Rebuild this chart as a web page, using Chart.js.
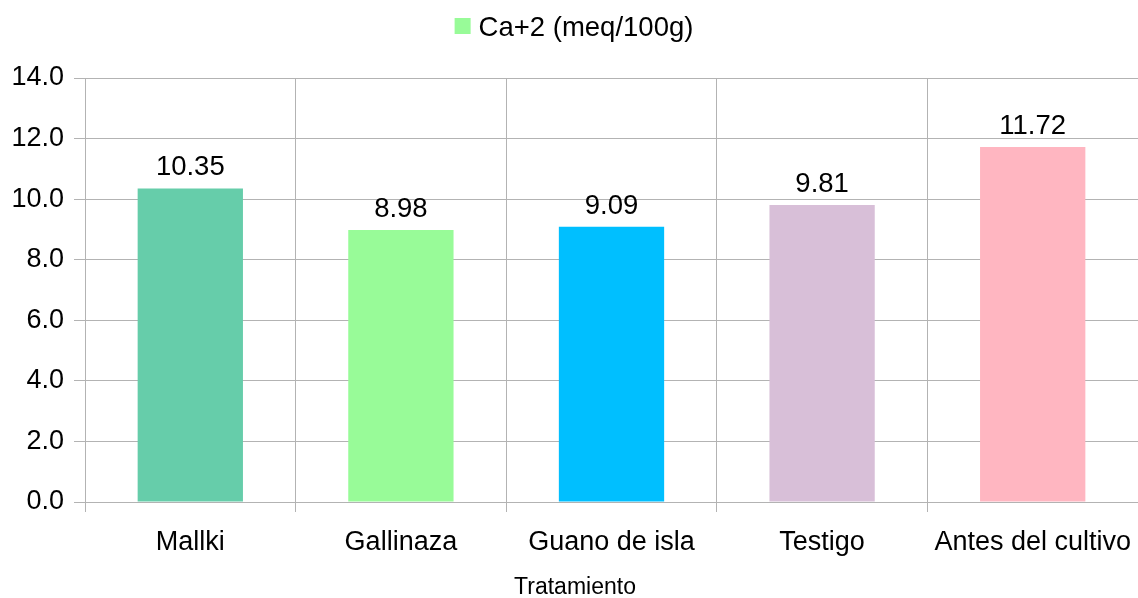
<!DOCTYPE html>
<html>
<head>
<meta charset="utf-8">
<script src="https://cdn.jsdelivr.net/npm/chart.js@4"></script>
<style>
html,body{margin:0;padding:0;background:#fff;}
#wrap{width:1138px;height:598px;}
</style>
</head>
<body>
<div id="wrap"><canvas id="c" width="1138" height="598"></canvas></div>
<script>
const categories = ["Mallki", "Gallinaza", "Guano de isla", "Testigo", "Antes del cultivo"];
const seriesName = "Ca+2 (meq/100g)";
const values = [10.35, 8.98, 9.09, 9.81, 11.72];
const barColors = ["#66CDAA", "#98FB98", "#00BFFF", "#D8BFD8", "#FFB6C1"];
const legendColor = "#98FB98";
const axisTitle = "Tratamiento";

const FONT = "'Liberation Sans', Arial, sans-serif";

const labelPlugin = {
  id: 'valueLabels',
  afterDatasetsDraw(chart) {
    const ctx = chart.ctx;
    const meta = chart.getDatasetMeta(0);
    ctx.save();
    ctx.font = "27.5px " + FONT;
    ctx.fillStyle = "#000";
    ctx.textAlign = "center";
    ctx.textBaseline = "bottom";
    meta.data.forEach((bar, i) => {
      ctx.fillText(values[i].toFixed(2), bar.x, bar.y - 7);
    });
    ctx.restore();
  }
};

const legendAndTitle = {
  id: 'legendAndTitle',
  afterDraw(chart) {
    const ctx = chart.ctx;
    ctx.save();
    // legend
    ctx.font = "27.5px " + FONT;
    const tw = ctx.measureText(seriesName).width;
    const total = 16 + 8 + tw;
    const start = 574 - total / 2;
    ctx.fillStyle = legendColor;
    ctx.fillRect(start, 18, 16, 16);
    ctx.fillStyle = "#000";
    ctx.textAlign = "left";
    ctx.textBaseline = "middle";
    ctx.fillText(seriesName, start + 24, 28);
    // axis title
    ctx.font = "23px " + FONT;
    ctx.textAlign = "center";
    ctx.fillText(axisTitle, 575, 588);
    ctx.restore();
  }
};

new Chart(document.getElementById('c'), {
  type: 'bar',
  data: {
    labels: categories,
    datasets: [{
      label: seriesName,
      data: values,
      backgroundColor: barColors,
      borderWidth: 0,
      barPercentage: 0.5,
      categoryPercentage: 1.0
    }]
  },
  options: {
    responsive: false,
    animation: false,
    devicePixelRatio: 1,
    layout: { padding: { top: 78, right: 0, left: 0, bottom: 0 } },
    plugins: {
      legend: { display: false },
      tooltip: { enabled: false }
    },
    scales: {
      x: {
        grid: { color: "#b3b3b3", lineWidth: 1, offset: true, tickLength: 10, drawTicks: true },
        border: { color: "#b3b3b3" },
        ticks: { font: { family: FONT, size: 27 }, color: "#000", padding: 14 },
        title: { display: false },
        afterFit(scale) { scale.height = 96; scale.paddingLeft = 0; scale.paddingRight = 0; }
      },
      y: {
        min: 0, max: 14,
        ticks: { stepSize: 2, font: { family: FONT, size: 27 }, color: "#000", padding: 10,
          callback: (v) => Number(v).toFixed(1) },
        grid: { color: "#b3b3b3", lineWidth: 1, tickLength: 11 },
        border: { color: "#b3b3b3" },
        afterFit(scale) { scale.width = 85; scale.paddingTop = 0; }
      }
    }
  },
  plugins: [labelPlugin, legendAndTitle]
});
</script>
</body>
</html>
